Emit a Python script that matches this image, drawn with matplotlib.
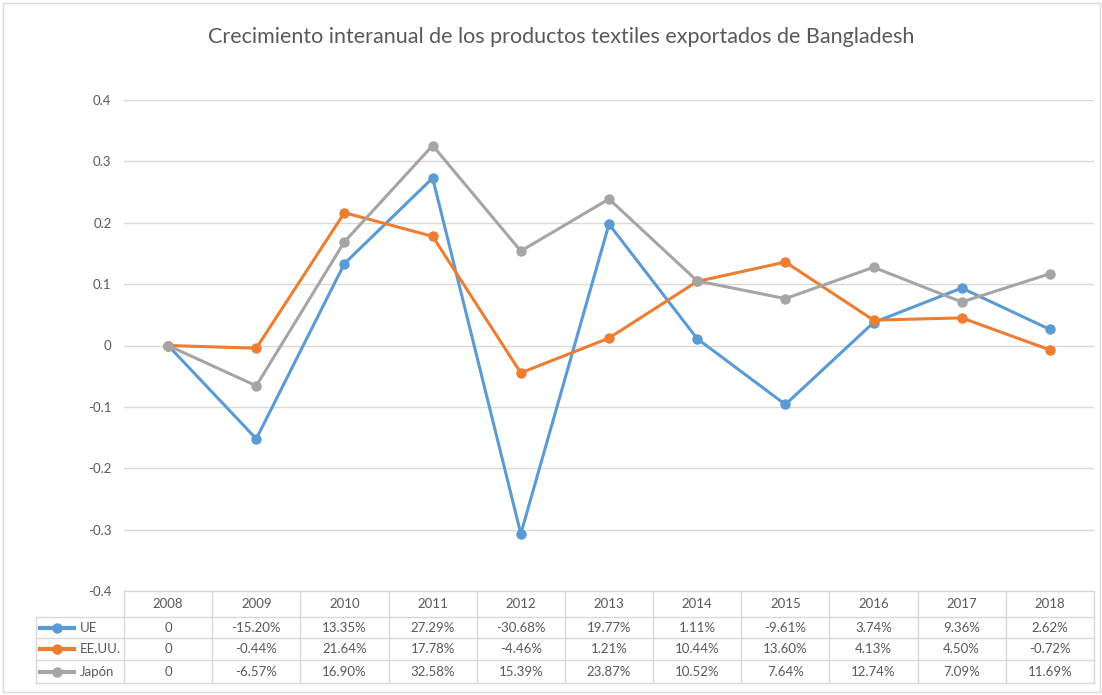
import numpy as np
import matplotlib
matplotlib.use('Agg')
import matplotlib.pyplot as plt
from matplotlib.lines import Line2D
from matplotlib.patches import Rectangle
import matplotlib.transforms as mtransforms

# DATA ##########################################
years = ['2008', '2009', '2010', '2011', '2012', '2013', '2014', '2015', '2016', '2017', '2018']
ue = [0, -15.20, 13.35, 27.29, -30.68, 19.77, 1.11, -9.61, 3.74, 9.36, 2.62]
eeuu = [0, -0.44, 21.64, 17.78, -4.46, 1.21, 10.44, 13.60, 4.13, 4.50, -0.72]
japon = [0, -6.57, 16.90, 32.58, 15.39, 23.87, 10.52, 7.64, 12.74, 7.09, 11.69]
series_names = ['UE', 'EE.UU.', 'Japón']
yticks = [-0.4, -0.3, -0.2, -0.1, 0, 0.1, 0.2, 0.3, 0.4]

colors = ['#5B9BD5', '#ED7D31', '#A5A5A5']
grid_c = '#D9D9D9'
text_c = '#595959'

plt.rcParams['font.family'] = ['Lato', 'DejaVu Sans']

W, H = 1102, 695
fig = plt.figure(figsize=(W / 100, H / 100), dpi=100)

# axes placement in pixels
ax_l, ax_r, ax_t, ax_b = 124, 1094, 100, 591
ax = fig.add_axes([ax_l / W, 1 - ax_b / H, (ax_r - ax_l) / W, (ax_b - ax_t) / H])

x = np.arange(len(years))
all_series = [ue, eeuu, japon]
for vals, c, name in zip(all_series, colors, series_names):
    ax.plot(x, np.array(vals) / 100, color=c, lw=2.2, marker='o', ms=6.5,
            label=name, zorder=3)

ax.set_xlim(-0.5, len(years) - 0.5)
ax.set_ylim(-0.4, 0.4)
ax.set_yticks(yticks)
ax.set_yticklabels(['0' if v == 0 else ('%g' % v) for v in yticks])
ax.set_xticks([])
ax.tick_params(axis='y', length=0, pad=9, labelsize=9.5, labelcolor=text_c)
ax.grid(axis='y', color=grid_c, lw=1)
ax.set_axisbelow(True)
for s in ax.spines.values():
    s.set_visible(False)

fig.text(561 / W, 1 - 37 / H, 'Crecimiento interanual de los productos textiles exportados de Bangladesh',
         ha='center', va='center', fontsize=15.5, color='#595959')

# TABLE #########################################
# x in data coords, y in figure pixels (from top)
trans = mtransforms.blended_transform_factory(ax.transData, fig.transFigure)
ftrans = fig.transFigure

def fy(py):
    return 1 - py / H

def fx(px):
    return px / W

row_edges = [591, 617, 638, 660, 683]
row_centers = [(row_edges[i] + row_edges[i + 1]) / 2 for i in range(4)]

# horizontal lines
for i, py in enumerate(row_edges):
    x0 = ax_l if i == 0 else 36
    fig.add_artist(Line2D([fx(x0), fx(ax_r)], [fy(py), fy(py)], color=grid_c, lw=1, transform=ftrans))
# vertical lines
for k in range(len(years) + 1):
    fig.add_artist(Line2D([k - 0.5, k - 0.5], [fy(row_edges[0]), fy(row_edges[-1])],
                          color=grid_c, lw=1, transform=trans))
fig.add_artist(Line2D([fx(36), fx(36)], [fy(row_edges[1]), fy(row_edges[-1])],
                      color=grid_c, lw=1, transform=ftrans))

for k, yr in enumerate(years):
    fig.text(k, fy(row_centers[0]), yr, transform=trans, ha='center', va='center',
             fontsize=9.5, color=text_c)

for r, (vals, c, name) in enumerate(zip(all_series, colors, series_names)):
    yc = fy(row_centers[r + 1])
    for k, v in enumerate(vals):
        s = '0' if v == 0 else '%.2f%%' % v
        fig.text(k, yc, s, transform=trans, ha='center', va='center',
                 fontsize=9.5, color=text_c)
    fig.add_artist(Line2D([fx(40), fx(74)], [yc, yc], color=c, lw=3, transform=ftrans))
    fig.add_artist(Line2D([fx(57)], [yc], color=c, marker='o', ms=6.5, transform=ftrans))
    fig.text(fx(80), yc, name, ha='left', va='center', fontsize=9.5, color=text_c)

# outer chart frame
fig.add_artist(Rectangle((fx(3), fy(692)), fx(1097), (689) / H, fill=False,
                         edgecolor=grid_c, lw=1, transform=ftrans))

fig.savefig('out.png', dpi=100)
